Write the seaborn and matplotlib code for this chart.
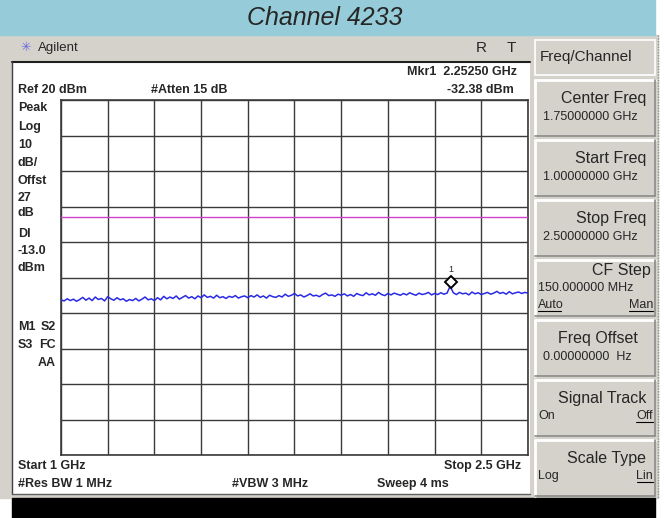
import numpy as np
import pandas as pd
import matplotlib
matplotlib.use('Agg')
import matplotlib.pyplot as plt
import seaborn as sns
from matplotlib.patches import Rectangle

# trace data (dBm), 1.0 - 2.5 GHz sweep, 10 MHz steps
trace_dbm = [
    -36.3, -36.6, -36.0, -36.5, -36.1, -36.7, -36.2, -35.6, -36.4, -35.8,
    -36.5, -35.5, -36.2, -35.9, -36.6, -35.4, -36.0, -36.4, -35.7, -36.3,
    -36.0, -36.7, -36.2, -36.5, -35.9, -36.6, -36.1, -35.5, -36.3, -36.0,
    -36.5, -35.7, -36.3, -35.3, -36.0, -35.5, -35.9, -35.2, -36.1, -35.6,
    -35.1, -35.8, -35.4, -36.0, -35.2, -35.7, -34.9, -35.6, -35.3, -35.8,
    -35.0, -35.7, -35.4, -35.9, -35.3, -35.6, -35.1, -35.8, -35.4, -35.2,
    -35.7, -35.1, -35.5, -34.9, -35.6, -35.2, -35.8, -35.0, -35.4, -35.6,
    -35.1, -35.5, -34.7, -35.3, -35.0, -34.5, -35.2, -34.9, -35.5, -35.1,
    -34.6, -35.2, -35.0, -35.4, -34.8, -34.4, -35.1, -34.9, -35.3, -34.7,
    -35.0, -34.6, -35.2, -34.8, -35.3, -34.5, -34.9, -35.1, -34.3, -34.9,
    -34.6, -35.0, -34.2, -34.8, -35.1, -34.5, -34.9, -34.4, -34.7, -35.0,
    -34.5, -34.9, -34.3, -34.7, -35.0, -34.4, -34.8, -34.6, -34.2, -34.9,
    -34.5, -34.8, -34.3, -34.7, -34.4, -32.4, -34.3, -34.8, -34.2, -34.6,
    -34.4, -34.9, -34.1, -34.6, -34.3, -34.8, -34.5, -34.2, -34.7, -34.4,
    -33.9, -34.5, -34.2, -34.7, -34.0, -34.6, -34.3, -34.1, -34.5, -34.2,
    -34.4,
]
start_ghz = 1.0
stop_ghz = 2.5
ref_level = 20
db_per_div = 10
display_line = -13.0
mkr_freq = 2.2525
mkr_level = -32.38

left_labels = ['Peak', 'Log', '10', 'dB/', 'Offst', '27', 'dB', 'Dl', '-13.0', 'dBm']
left_label_y = [108, 127, 145, 163, 181, 198, 213, 234, 251, 268]

softkeys = [
    ('Center Freq', '1.75000000 GHz', None, None),
    ('Start Freq', '1.00000000 GHz', None, None),
    ('Stop Freq', '2.50000000 GHz', None, None),
    ('CF Step', '150.000000 MHz', 'Auto', 'Man'),
    ('Freq Offset', '0.00000000  Hz', None, None),
    ('Signal Track', None, 'On', 'Off'),
    ('Scale Type', None, 'Log', 'Lin'),
]

sns.set_style('white')
narrow = ['Liberation Sans Narrow', 'Liberation Sans', 'DejaVu Sans']
plain = ['Liberation Sans', 'DejaVu Sans']
plt.rcParams['font.family'] = plain

W, H = 664, 518
fig = plt.figure(figsize=(W / 100, H / 100), dpi=100)

# background canvas in pixel coordinates
bg = fig.add_axes([0, 0, 1, 1])
bg.set_xlim(0, W)
bg.set_ylim(H, 0)
bg.axis('off')

gray = '#d5d2cc'
bg.add_patch(Rectangle((0, 0), W, H, color='white', zorder=0))
bg.add_patch(Rectangle((0, 35), 658, 463, color=gray, zorder=1))
bg.add_patch(Rectangle((0, 0), 655, 35, color='#96ccd9', zorder=2))
bg.add_patch(Rectangle((12, 498), 643, 20, color='black', zorder=2))
bg.add_patch(Rectangle((12, 62), 518, 432, facecolor='white', edgecolor='none', zorder=2))
bg.plot([12, 530], [62, 62], color='#202020', lw=1.5, zorder=3)
bg.plot([12, 12], [62, 494], color='#404040', lw=1, zorder=3)
bg.plot([12, 530], [494, 494], color='#606060', lw=1, zorder=3)
bg.plot([657.5, 657.5], [35, 498], color='#909090', lw=1, ls=(0, (1, 1)), zorder=3)

bg.text(325, 18, 'Channel 4233', fontsize=18, style='italic', ha='center', va='center', zorder=4)
bg.text(20, 48, '\u2733', fontsize=9, color='#6a6ae0', ha='left', va='center', zorder=4)
bg.text(38, 48, 'Agilent', fontsize=9.5, ha='left', va='center', zorder=4)
bg.text(481, 48, 'R', fontsize=11, ha='center', va='center', zorder=4)
bg.text(511, 48, 'T', fontsize=11, ha='center', va='center', zorder=4)

# softkey panel
bg.add_patch(Rectangle((535, 40), 120, 35, facecolor=gray, edgecolor='white', lw=1.2, zorder=3))
bg.text(540, 57, 'Freq/Channel', fontsize=11, ha='left', va='center', zorder=4)
for k, (title, value, left_opt, right_opt) in enumerate(softkeys):
    top = 80 + k * 60
    bg.add_patch(Rectangle((535, top), 120, 56, facecolor=gray, edgecolor='none', zorder=3))
    bg.plot([535, 655], [top, top], color='white', lw=2, zorder=4)
    bg.plot([535, 535], [top, top + 56], color='white', lw=2, zorder=4)
    bg.plot([535, 655], [top + 56, top + 56], color='#8a8a8a', lw=1.2, zorder=4)
    bg.plot([655, 655], [top, top + 56], color='#8a8a8a', lw=1.2, zorder=4)
    if title == 'Freq Offset':
        bg.text(598, top + 19, title, fontsize=11.5, ha='center', va='center', zorder=5)
    elif title == 'CF Step':
        bg.text(651, top + 11, title, fontsize=11.5, ha='right', va='center', zorder=5)
    else:
        bg.text(646, top + 19, title, fontsize=11.5, ha='right', va='center', zorder=5)
    if value is not None:
        if title == 'CF Step':
            bg.text(538, top + 28, value, fontsize=9, ha='left', va='center', zorder=5)
        else:
            bg.text(543, top + 37, value, fontsize=9, ha='left', va='center', zorder=5)
    if left_opt is not None:
        ly = top + 36 if value is None else top + 45
        bg.text(538, ly, left_opt, fontsize=9, ha='left', va='center', zorder=5)
        if left_opt == 'Auto':
            bg.plot([538, 561], [ly + 6, ly + 6], color='black', lw=0.8, zorder=5)
        bg.text(653, ly, right_opt, fontsize=9, ha='right', va='center', zorder=5)
        rw = {'Man': 24, 'Off': 17, 'Lin': 16}[right_opt]
        bg.plot([653 - rw, 653], [ly + 6, ly + 6], color='black', lw=0.8, zorder=5)

# annotations around the graticule
bold = dict(fontsize=9, fontweight='bold', family=narrow, zorder=5, va='center')
bg.text(517, 72, 'Mkr1  2.25250 GHz', ha='right', **bold)
bg.text(18, 90, 'Ref 20 dBm', ha='left', **bold)
bg.text(151, 90, '#Atten 15 dB', ha='left', **bold)
bg.text(514, 90, '-32.38 dBm', ha='right', **bold)
for lab, yy in zip(left_labels, left_label_y):
    bg.text(18, yy, lab, ha='left', **bold)
bg.text(18, 327, 'M1', ha='left', **bold)
bg.text(56, 327, 'S2', ha='right', **bold)
bg.text(18, 345, 'S3', ha='left', **bold)
bg.text(56, 345, 'FC', ha='right', **bold)
bg.text(56, 363, 'AA', ha='right', **bold)
bg.text(18, 466, 'Start 1 GHz', ha='left', **bold)
bg.text(521, 466, 'Stop 2.5 GHz', ha='right', **bold)
bg.text(18, 484, '#Res BW 1 MHz', ha='left', **bold)
bg.text(232, 484, '#VBW 3 MHz', ha='left', **bold)
bg.text(377, 484, 'Sweep 4 ms', ha='left', **bold)

# graticule + trace
gx0, gx1, gy0, gy1 = 61, 528, 100, 455
ax = fig.add_axes([gx0 / W, 1 - gy1 / H, (gx1 - gx0) / W, (gy1 - gy0) / H])
ax.set_facecolor('white')
bottom = ref_level - 10 * db_per_div
ax.set_xlim(start_ghz, stop_ghz)
ax.set_ylim(bottom, ref_level)
ax.set_xticks(np.linspace(start_ghz, stop_ghz, 11))
ax.set_yticks(np.linspace(bottom, ref_level, 11))
ax.grid(True, color='#3a3a3a', lw=1)
ax.tick_params(length=0, labelbottom=False, labelleft=False)
for s in ax.spines.values():
    s.set_color('#3a3a3a')
    s.set_linewidth(1.2)

ax.axhline(display_line, color='#d040d0', lw=1, zorder=3)

df = pd.DataFrame({'freq': np.linspace(start_ghz, stop_ghz, len(trace_dbm)), 'level': trace_dbm})
sns.lineplot(data=df, x='freq', y='level', ax=ax, color='#2a2ae6', lw=1.1, zorder=4)
ax.set_xlabel('')
ax.set_ylabel('')
ax.plot([mkr_freq], [mkr_level + 1.0], marker='D', ms=6.5, mfc='white', mec='black', mew=1.4, zorder=5)
ax.text(mkr_freq, mkr_level + 4.5, '1', fontsize=6.5, ha='center', va='center', zorder=5)

fig.savefig('out.png', dpi=100)
